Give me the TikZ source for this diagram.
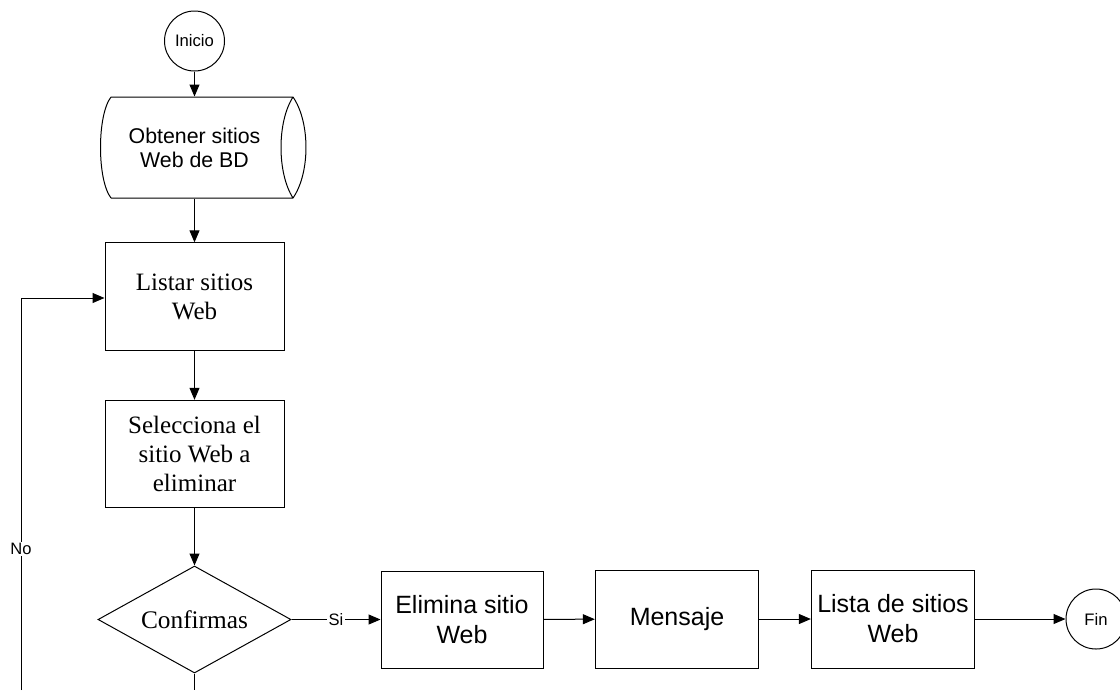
\documentclass[tikz,border=0pt]{standalone}
\usepackage{fontspec}
\setmainfont{Liberation Serif}
\newfontfamily\arialfam{Liberation Sans}
\usetikzlibrary{arrows.meta,shapes.geometric}

\begin{document}
\begin{tikzpicture}[x=0.75pt,y=-0.75pt,line width=0.75pt,
  flow/.style={-{Triangle[length=9pt,width=7.5pt]}},
  terminal/.style={draw,circle,minimum size=45pt,inner sep=0pt,
    font=\arialfam\fontsize{12.5}{15}\selectfont},
  serifbox/.style={draw,rectangle,inner sep=0pt,align=center,
    minimum width=134.25pt,minimum height=80.5pt,
    font=\fontsize{18.75}{21.75}\selectfont},
  sansbox/.style={draw,rectangle,inner sep=0pt,align=center,
    minimum width=122.5pt,minimum height=73.5pt,
    font=\arialfam\fontsize{18.75}{22.5}\selectfont},
  decision/.style={draw,diamond,inner sep=0pt,shape aspect=1.8,
    minimum width=144.75pt,minimum height=80.25pt,
    font=\fontsize{19}{22}\selectfont},
  lbl/.style={fill=white,inner sep=1pt,font=\arialfam\fontsize{12.4}{14}\selectfont}]
\useasboundingbox (0,0) rectangle (1120,690);

% start terminal and the stored-data step
\node[terminal] (ini) at (194.5,41) {Inicio};
\node[inner sep=0pt,minimum width=135pt,minimum height=75.75pt,align=center,
  font=\arialfam\fontsize{16}{18}\selectfont] (db) at (194.5,147.5)
  {Obtener sitios\\Web de BD};
\draw (111,97) -- (293,97)
      (111,198) -- (293,198)
      (111,97) .. controls (97,115) and (97,180) .. (111,198)
      (293,97) .. controls (277,122) and (277,173) .. (293,198)
      (293,97) .. controls (310.3,122) and (310.3,173) .. (293,198);

% main column
\node[serifbox] (lst) at (194.5,296.5) {Listar sitios\\Web};
\node[serifbox] (sel) at (194.5,454) {Selecciona el\\sitio Web a\\eliminar};
\node[decision] (dec) at (194.5,619.5) {Confirmas};

% bottom row
\node[sansbox,minimum width=121.5pt,minimum height=72.75pt] (eli) at (462,619.5) {Elimina sitio\\Web};
\node[sansbox] (men) at (677,619) {Mensaje};
\node[sansbox] (lis) at (893,619) {Lista de sitios\\Web};
\node[terminal] (fin) at (1096,619) {Fin};

% loose ends running off the lower edge
\coordinate (decend) at (194.5,690);
\coordinate (noend) at (21,690);
\coordinate (nocorner) at (21,298);

% connectors
\draw[flow] (ini) -- (db);
\draw[flow] (db) -- (lst);
\draw[flow] (lst) -- (sel);
\draw[flow] (sel) -- (dec);
\draw[flow] (dec) -- node[lbl,pos=0.5] {Si} (eli);
\draw[flow] (eli) -- (men);
\draw[flow] (men) -- (lis);
\draw[flow] (lis) -- (fin);
\draw (dec.south) -- (decend);
\draw[flow] (noend) -- node[lbl,pos=0.36] {No} (nocorner) -- (nocorner -| lst.west);
\end{tikzpicture}
\end{document}
